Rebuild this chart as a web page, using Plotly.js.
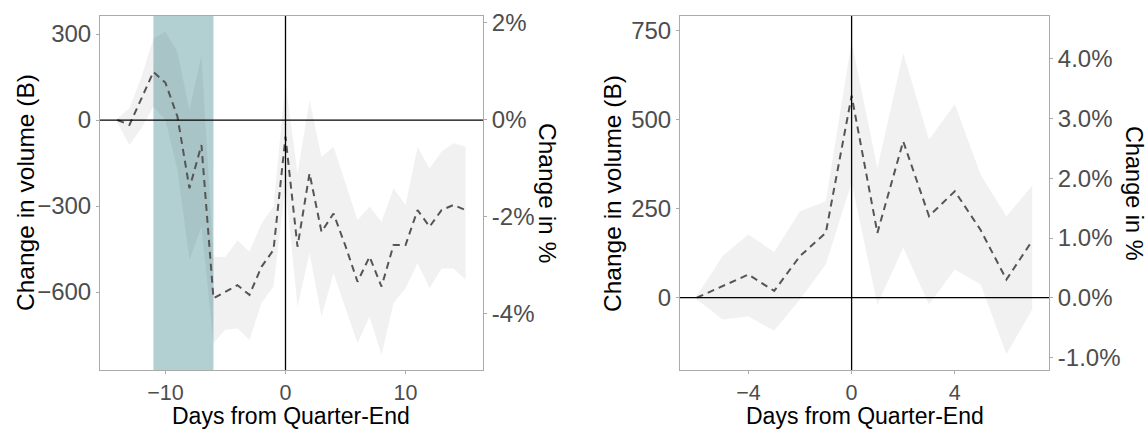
<!DOCTYPE html>
<html>
<head>
<meta charset="utf-8">
<script src="https://cdn.plot.ly/plotly-3.0.1.min.js"></script>
<style>html,body{margin:0;padding:0;background:#fff;}#chart{width:1148px;height:430px;}</style>
</head>
<body>
<div id="chart"></div>
<script>
// ---- Left panel data (days -14..15) ----
const daysLeft = [-14,-13,-12,-11,-10,-9,-8,-7,-6,-5,-4,-3,-2,-1,0,1,2,3,4,5,6,7,8,9,10,11,12,13,14,15];
const meanLeft = [0,-17,75,168,130,12,-238,-87,-622,-599,-576,-610,-512,-453,-58,-442,-186,-390,-326,-440,-564,-477,-581,-436,-436,-314,-372,-314,-296,-314];
const upperLeft = [5,41,151,285,308,238,35,227,-477,-477,-419,-459,-360,-302,134,-186,70,-128,-93,-221,-349,-302,-355,-238,-296,-93,-169,-110,-81,-93];
const lowerLeft = [-10,-87,-29,46,0,-174,-488,-372,-779,-732,-727,-767,-639,-581,-233,-651,-465,-686,-535,-657,-779,-686,-820,-639,-587,-500,-587,-518,-518,-558];
const shadeStart = -11;
const shadeEnd = -6;

// ---- Right panel data (days -6..7) ----
const daysRight = [-6,-5,-4,-3,-2,-1,0,1,2,3,4,5,6,7];
const meanRight = [0,33,65,19,117,182,567,182,439,229,299,190,51,160];
const upperRight = [5,117,178,128,243,271,719,364,687,444,544,346,229,315];
const lowerRight = [-5,-61,-53,-93,-5,93,322,-19,140,-19,79,37,-159,-33];

// ---- Tick labels ----
const leftVolTicks = [300,0,-300,-600];
const leftPctTicks = [2,0,-2,-4];
const leftPctLabels = ['2%','0%','-2%','-4%'];
const leftDayTicks = [-10,0,10];
const rightVolTicks = [0,250,500,750];
const rightPctTicks = [-1,0,1,2,3,4];
const rightPctLabels = ['-1.0%','0.0%','1.0%','2.0%','3.0%','4.0%'];
const rightDayTicks = [-4,0,4];

const titleVol = 'Change in volume (B)';
const titlePct = 'Change in %';
const titleDays = 'Days from Quarter-End';

const FONT = 'Liberation Sans, Arial, sans-serif';
const bandFill = 'rgba(0,0,0,0.055)';
const lineStyle = {color:'#555555', width:2, dash:'7px,5px'};
const TICK_SIZE = 24;
const XTICK_SIZE = 21.5;
const TITLE_SIZE = 24.5;
const XTITLE_SIZE = 23;

const traces = [
  {x: daysLeft, y: lowerLeft, xaxis:'x', yaxis:'y', mode:'lines', line:{width:0}, hoverinfo:'skip', showlegend:false},
  {x: daysLeft, y: upperLeft, xaxis:'x', yaxis:'y', mode:'lines', line:{width:0}, fill:'tonexty', fillcolor: bandFill, hoverinfo:'skip', showlegend:false},
  {x: daysLeft, y: meanLeft, xaxis:'x', yaxis:'y', mode:'lines', line: lineStyle, showlegend:false},
  {x: [daysLeft[0]], y: [0], xaxis:'x', yaxis:'y2', mode:'markers', marker:{opacity:0}, hoverinfo:'skip', showlegend:false},
  {x: daysRight, y: lowerRight, xaxis:'x2', yaxis:'y3', mode:'lines', line:{width:0}, hoverinfo:'skip', showlegend:false},
  {x: daysRight, y: upperRight, xaxis:'x2', yaxis:'y3', mode:'lines', line:{width:0}, fill:'tonexty', fillcolor: bandFill, hoverinfo:'skip', showlegend:false},
  {x: daysRight, y: meanRight, xaxis:'x2', yaxis:'y3', mode:'lines', line: lineStyle, showlegend:false},
  {x: [daysRight[0]], y: [0], xaxis:'x2', yaxis:'y4', mode:'markers', marker:{opacity:0}, hoverinfo:'skip', showlegend:false}
];

const axCommon = {
  showgrid:false, zeroline:false, showline:true, linecolor:'#ababab', linewidth:1, mirror:true,
  ticks:'outside', ticklen:3, tickcolor:'#ababab', tickwidth:1,
  tickfont:{family:FONT, size:TICK_SIZE, color:'#4d4d4d'}, fixedrange:true
};
const xCommon = Object.assign({}, axCommon, {tickfont:{family:FONT, size:XTICK_SIZE, color:'#4d4d4d'}});
const pctCommon = Object.assign({}, axCommon, {showline:false, mirror:false});

const dom1 = [100/1148, 483/1148];
const dom2 = [680/1148, 1049/1148];
const ydom = [1-370/430, 1-16/430];

function vtitle(text, xpx, angle, size) {
  return {text:text, xref:'paper', yref:'paper', x:xpx/1148, y:1-193/430, textangle:angle, showarrow:false,
          xanchor:'center', yanchor:'middle', font:{family:FONT, size:size || TITLE_SIZE, color:'#000'}};
}
function xtitle(text, xpx) {
  return {text:text, xref:'paper', yref:'paper', x:xpx/1148, y:0, showarrow:false, borderpad:0,
          xanchor:'center', yanchor:'bottom', font:{family:FONT, size:XTITLE_SIZE, color:'#000'}};
}

const layout = {
  width:1148, height:430,
  margin:{l:0, r:0, t:0, b:0},
  paper_bgcolor:'#ffffff', plot_bgcolor:'#ffffff',
  showlegend:false,
  font:{family:FONT},
  xaxis: Object.assign({}, xCommon, {domain:dom1, anchor:'y', range:[-15.45,16.45], tickvals:leftDayTicks}),
  yaxis: Object.assign({}, axCommon, {domain:ydom, anchor:'x', range:[-872,363], tickvals:leftVolTicks}),
  yaxis2: Object.assign({}, pctCommon, {overlaying:'y', side:'right', anchor:'x', range:[-5.175,2.144], tickvals:leftPctTicks, ticktext:leftPctLabels}),
  xaxis2: Object.assign({}, xCommon, {domain:dom2, anchor:'y3', range:[-6.65,7.65], tickvals:rightDayTicks}),
  yaxis3: Object.assign({}, axCommon, {domain:ydom, anchor:'x2', range:[-203,791], tickvals:rightVolTicks}),
  yaxis4: Object.assign({}, pctCommon, {overlaying:'y3', side:'right', anchor:'x2', range:[-1.21,4.72], tickvals:rightPctTicks, ticktext:rightPctLabels}),
  shapes: [
    {type:'rect', xref:'x', yref:'y domain', x0:shadeStart, x1:shadeEnd, y0:0, y1:1, fillcolor:'#b2d0d2', line:{width:0}, layer:'below'},
    {type:'line', xref:'x', yref:'y domain', x0:0, x1:0, y0:0, y1:1, line:{color:'#000', width:1.3}},
    {type:'line', xref:'x domain', yref:'y', x0:0, x1:1, y0:0, y1:0, line:{color:'#000', width:1.3}},
    {type:'line', xref:'x2', yref:'y3 domain', x0:0, x1:0, y0:0, y1:1, line:{color:'#000', width:1.3}},
    {type:'line', xref:'x2 domain', yref:'y3', x0:0, x1:1, y0:0, y1:0, line:{color:'#000', width:1.3}}
  ],
  annotations: [
    vtitle(titleVol, 25, -90),
    vtitle(titlePct, 548, 90),
    xtitle(titleDays, 291),
    vtitle(titleVol, 612, -90),
    vtitle(titlePct, 1134, 90, 23.5),
    xtitle(titleDays, 865)
  ]
};

Plotly.newPlot('chart', traces, layout, {displayModeBar:false, staticPlot:true});
</script>
</body>
</html>
